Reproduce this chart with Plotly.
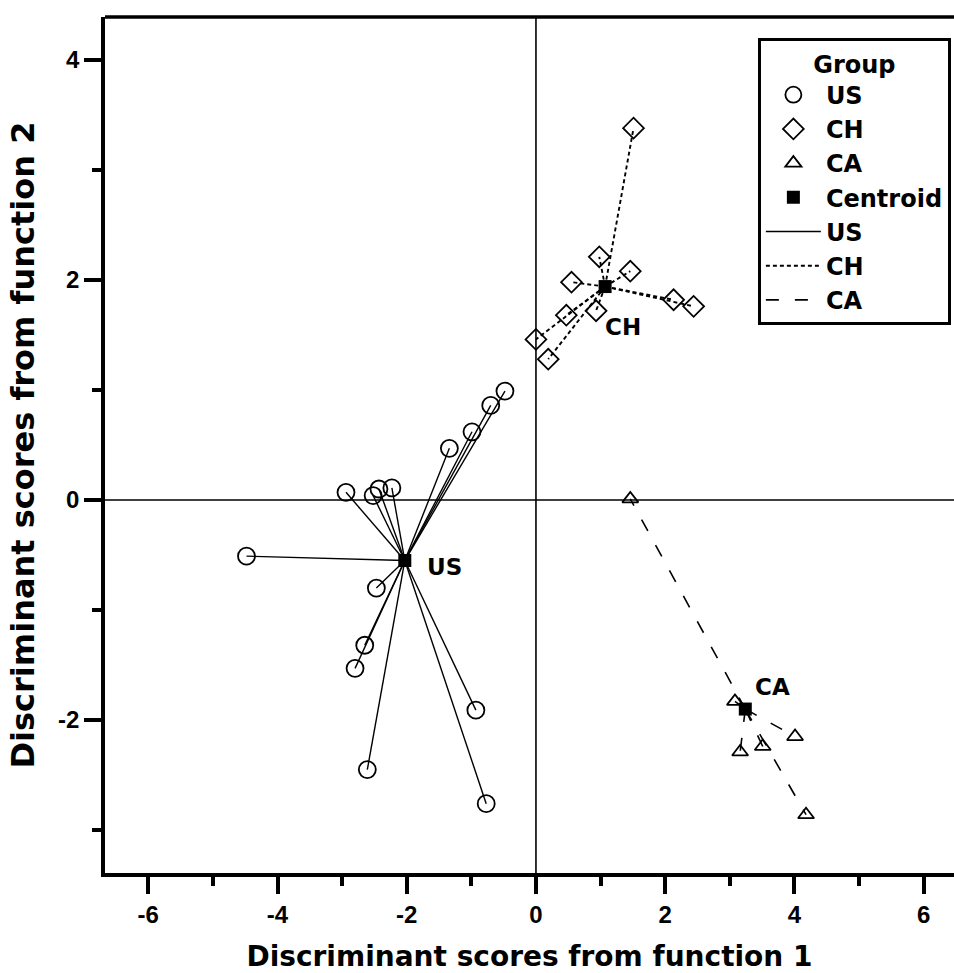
import plotly.graph_objects as go

# ---- data ----
groups = ["US", "CH", "CA"]

us_x = [-0.48, -0.70, -0.99, -1.34, -2.94, -2.52, -2.43, -2.23, -4.48, -2.47, -2.65, -2.80, -0.93, -2.61, -0.77]
us_y = [0.99, 0.86, 0.62, 0.47, 0.07, 0.04, 0.10, 0.11, -0.51, -0.80, -1.32, -1.53, -1.91, -2.45, -2.76]

ch_x = [1.51, 0.98, 1.46, 0.55, 2.13, 2.44, 0.47, 0.93, 0.00, 0.19]
ch_y = [3.38, 2.21, 2.08, 1.98, 1.82, 1.76, 1.68, 1.72, 1.46, 1.28]

ca_x = [1.46, 3.08, 4.01, 3.16, 3.51, 4.18]
ca_y = [0.01, -1.83, -2.15, -2.29, -2.24, -2.86]

centroid_x = [-2.03, 1.07, 3.24]
centroid_y = [-0.55, 1.94, -1.90]

x_ticks = [-6, -4, -2, 0, 2, 4, 6]
y_ticks = [-2, 0, 2, 4]

FONT = "DejaVu Sans, Liberation Sans, Arial, sans-serif"
NARROW = "Liberation Sans Narrow, Arial Narrow, Liberation Sans, sans-serif"

pts = {"US": (us_x, us_y), "CH": (ch_x, ch_y), "CA": (ca_x, ca_y)}
symbols = {"US": "circle-open", "CH": "diamond-open", "CA": "triangle-up-open"}
msize = {"US": 17, "CH": 16, "CA": 14}
dashes = {"US": "solid", "CH": "4px,3px", "CA": "13px,16px"}
lwidth = {"US": 1.4, "CH": 1.9, "CA": 1.6}

fig = go.Figure()

# connecting lines (centroid -> each point)
for gi, g in enumerate(groups):
    xs, ys = pts[g]
    sx, sy = [], []
    for xv, yv in zip(xs, ys):
        sx += [centroid_x[gi], xv, None]
        sy += [centroid_y[gi], yv, None]
    fig.add_trace(go.Scatter(x=sx, y=sy, mode="lines", name=g,
                             line=dict(color="black", width=lwidth[g], dash=dashes[g]),
                             hoverinfo="skip", legendrank=10 + gi))

# markers
for gi, g in enumerate(groups):
    xs, ys = pts[g]
    fig.add_trace(go.Scatter(x=xs, y=ys, mode="markers", name=g,
                             marker=dict(symbol=symbols[g], size=msize[g], color="black",
                                         line=dict(width=1.8, color="black")),
                             legendrank=gi + 1))
fig.add_trace(go.Scatter(x=centroid_x, y=centroid_y, mode="markers", name="Centroid",
                         marker=dict(symbol="square", size=13, color="black"),
                         legendrank=4))

# reference lines
fig.add_hline(y=0, line=dict(color="black", width=1.6), layer="below")
fig.add_vline(x=0, line=dict(color="black", width=1.6), layer="below")

# top border of plot frame
fig.add_shape(type="line", xref="paper", yref="paper", x0=0, x1=1, y0=1, y1=1,
              line=dict(color="black", width=3.5))

# group labels
offsets = {"US": (20, -6), "CH": (-2, -40), "CA": (8, 22)}
for gi, g in enumerate(groups):
    fig.add_annotation(x=centroid_x[gi], y=centroid_y[gi], text=g, showarrow=False,
                       xanchor="left", yanchor="middle",
                       xshift=offsets[g][0], yshift=offsets[g][1],
                       font=dict(family=FONT, size=23, color="black", weight="bold"))

fig.update_layout(
    width=954, height=973,
    margin=dict(l=105, r=0, t=17, b=100, autoexpand=False),
    plot_bgcolor="white", paper_bgcolor="white",
    font=dict(family=FONT, color="black"),
    legend=dict(
        x=0.769, y=0.975, xanchor="left", yanchor="top",
        bgcolor="white", bordercolor="black", borderwidth=3,
        font=dict(family=FONT, size=24, color="black", weight="bold"),
        title=dict(text="Group", side="top center",
                   font=dict(family=FONT, size=24, color="black", weight="bold")),
        tracegroupgap=0, itemwidth=55,
    ),
    xaxis=dict(
        range=[-6.67, 6.47], tickvals=x_ticks, ticktext=[str(v) for v in x_ticks],
        showgrid=False, zeroline=False, showline=True, linecolor="black", linewidth=3.5,
        ticks="outside", ticklen=17, tickwidth=3.5, tickcolor="black",
        minor=dict(dtick=1, tick0=1, ticks="outside", ticklen=9, tickwidth=3.5, tickcolor="black"),
        tickfont=dict(family=NARROW, size=24, color="black", weight="bold"),
        automargin=False,
        title=dict(text="Discriminant scores from function 1", standoff=22,
                   font=dict(family=FONT, size=28, color="black", weight="bold")),
    ),
    yaxis=dict(
        range=[-3.39, 4.39], tickvals=y_ticks, ticktext=[str(v) for v in y_ticks],
        showgrid=False, zeroline=False, showline=True, linecolor="black", linewidth=3.5,
        ticks="outside", ticklen=17, tickwidth=3.5, tickcolor="black",
        minor=dict(dtick=1, tick0=1, ticks="outside", ticklen=9, tickwidth=3.5, tickcolor="black"),
        tickfont=dict(family=NARROW, size=24, color="black", weight="bold"),
        automargin=False,
        title=dict(text="Discriminant scores from function 2", standoff=15,
                   font=dict(family=FONT, size=32, color="black", weight="bold")),
    ),
)

fig.write_html("out.html",
               config={"displayModeBar": False},
               post_script="document.body.style.margin='0';document.body.style.padding='0';"
                           "document.documentElement.style.overflow='hidden';")
